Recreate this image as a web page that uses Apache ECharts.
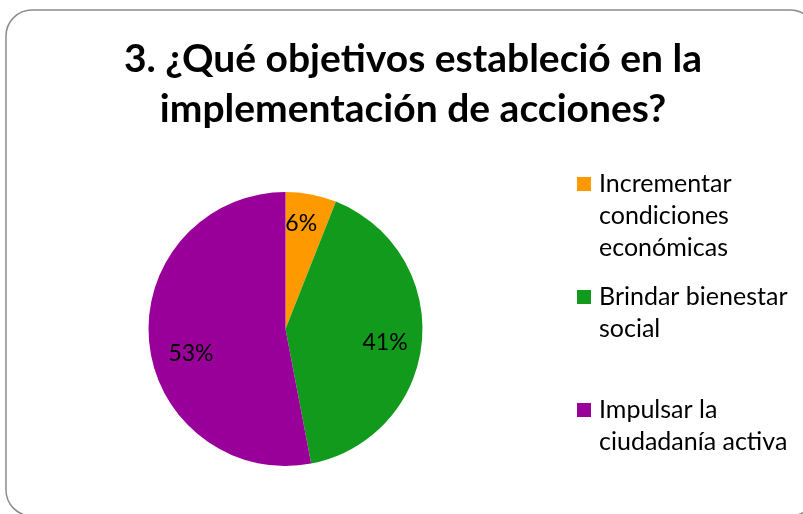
<!DOCTYPE html>
<html><head><meta charset="utf-8">
<script src="https://cdn.jsdelivr.net/npm/echarts@6/dist/echarts.min.js"></script>
<style>html,body{margin:0;padding:0;background:#fff}#c{width:803px;height:514px}</style>
</head><body><div id="c"></div>
<script>
const titleText = '3. ¿Qué objetivos estableció en la\nimplementación de acciones?';
const categories = ['Incrementar condiciones económicas', 'Brindar bienestar social', 'Impulsar la ciudadanía activa'];
const legendLabels = ['Incrementar\ncondiciones\neconómicas', 'Brindar bienestar\nsocial', 'Impulsar la\nciudadanía activa'];
const values = [6, 41, 53];
const colors = ['#FF9900', '#129A1C', '#990099'];

const FONT = 'Lato';
const LH = 32;
const chart = echarts.init(document.getElementById('c'));

const rich = {
  g: { width: 8, lineHeight: LH },
  s: { width: 22, lineHeight: LH },
  t: { fontFamily: FONT, fontSize: 25, color: '#000', lineHeight: LH, verticalAlign: 'middle' }
};
colors.forEach((c, i) => {
  rich['m' + i] = { width: 14, height: 14, backgroundColor: c, lineHeight: LH, verticalAlign: 'middle' };
});

function legendFormatter(n) {
  const i = categories.indexOf(n);
  return legendLabels[i].split('\n')
    .map((l, k) => (k === 0 ? '{m' + i + '|}{g|}' : '{s|}') + '{t|' + l + '}')
    .join('\n');
}

function mkLegend(i, top) {
  return {
    data: [categories[i]], left: 572, top: top, padding: 0, orient: 'vertical',
    icon: 'none', itemWidth: 0, itemHeight: 14, itemGap: 0,
    formatter: legendFormatter,
    textStyle: { fontFamily: FONT, fontSize: 25, color: '#000', lineHeight: LH, rich: rich }
  };
}

chart.setOption({
  animation: false,
  title: {
    text: titleText, left: 408, top: 29, textAlign: 'center',
    textStyle: { fontFamily: FONT, fontWeight: 'bold', fontSize: 39, lineHeight: 50, color: '#000' }
  },
  legend: [mkLegend(0, 168), mkLegend(1, 281), mkLegend(2, 394)],
  graphic: [{
    type: 'rect', silent: true, z: -1,
    shape: { x: 6, y: 10, width: 810, height: 506, r: 26 },
    style: { fill: 'none', stroke: '#8c8c8c', lineWidth: 1.5 }
  }],
  series: [{
    type: 'pie', center: [285.5, 329], radius: [0, 137], startAngle: 90, clockwise: true,
    label: { show: false }, labelLine: { show: false },
    data: categories.map((n, i) => ({ name: n, value: values[i], itemStyle: { color: colors[i] } }))
  }, {
    type: 'pie', center: [285.5, 329], radius: [0, 204], startAngle: 90, clockwise: true, silent: true,
    itemStyle: { color: 'rgba(0,0,0,0)' },
    label: { show: true, position: 'inside', formatter: '{c}%', fontFamily: FONT, fontSize: 23, color: '#000' },
    labelLine: { show: false },
    data: categories.map((n, i) => ({
      name: n, value: values[i],
      label: i === 0 ? { offset: [-4, -2] } : (i === 1 ? { offset: [-5, 4] } : { offset: [10, 15] })
    }))
  }]
});
</script></body></html>
